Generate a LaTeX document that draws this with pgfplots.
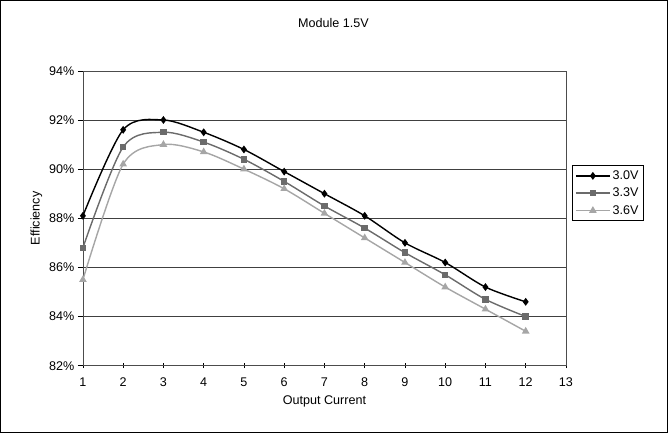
\documentclass[border=0pt]{standalone}
\usepackage{fontspec}
\setmainfont{Liberation Sans}
\usepackage{pgfplots}
\pgfplotsset{compat=1.18}
\definecolor{cA}{gray}{0.0}
\definecolor{cB}{gray}{0.42}
\definecolor{cC}{gray}{0.65}

\begin{document}
\begin{tikzpicture}[x=1pt,y=1pt]
\draw[black, line width=0.8pt] (4,1) rectangle (667,430);
\begin{axis}[
    at={(86pt,67pt)}, anchor=south west,
    scale only axis,
    width=480pt, height=293pt,
    xmin=1, xmax=13, ymin=82, ymax=94,
    xtick={1,...,13},
    ytick={82,84,...,94},
    yticklabel={\pgfmathprintnumber{\tick}\%},
    /pgf/number format/assume math mode=true,
    xtick pos=bottom, ytick pos=left,
    ymajorgrids,
    major grid style={black!75, line width=0.5pt},
    axis line style={black!70, line width=0.6pt},
    xtick align=center, ytick align=outside,
    tick style={black, line width=0.6pt},
    major tick length=5pt,
    tick label style={font=\fontsize{12.5}{14}\selectfont},
    xticklabel style={yshift=-6pt},
    xlabel={Output Current}, ylabel={Efficiency},
    label style={font=\fontsize{12.5}{14}\selectfont},
    xlabel style={yshift=-2pt},
    ylabel style={yshift=0pt},
    legend style={at={(axis description cs:1.012,0.585)}, anchor=west,
        draw=black, line width=0.6pt, font=\fontsize{12.5}{14}\selectfont,
        inner sep=3pt, row sep=3pt,
        /tikz/every even column/.append style={column sep=1pt}},
    legend image code/.code={
        \draw[mark repeat=2,mark phase=2,#1] plot coordinates {(0pt,0pt) (17pt,0pt) (34pt,0pt)};},
    legend cell align=left,
    every axis plot/.append style={line width=1.4pt, smooth},
]
\addplot[cA, mark=diamond*, mark size=2.8pt, mark options={solid}] coordinates {
(1,88.1) (2,91.6) (3,92.0) (4,91.5) (5,90.8) (6,89.9) (7,89.0) (8,88.1) (9,87.0) (10,86.2) (11,85.2) (12,84.6)};
\addlegendentry{3.0V}
\addplot[cB, mark=square*, mark size=2.5pt] coordinates {
(1,86.8) (2,90.9) (3,91.5) (4,91.1) (5,90.4) (6,89.5) (7,88.5) (8,87.6) (9,86.6) (10,85.7) (11,84.7) (12,84.0)};
\addlegendentry{3.3V}
\addplot[cC, mark=triangle*, mark size=3pt] coordinates {
(1,85.5) (2,90.2) (3,91.0) (4,90.7) (5,90.0) (6,89.2) (7,88.2) (8,87.2) (9,86.2) (10,85.2) (11,84.3) (12,83.4)};
\addlegendentry{3.6V}
\end{axis}
\node[font=\fontsize{12.5}{14}\selectfont] at (335,408) {Module 1.5V};
\end{tikzpicture}
\end{document}
